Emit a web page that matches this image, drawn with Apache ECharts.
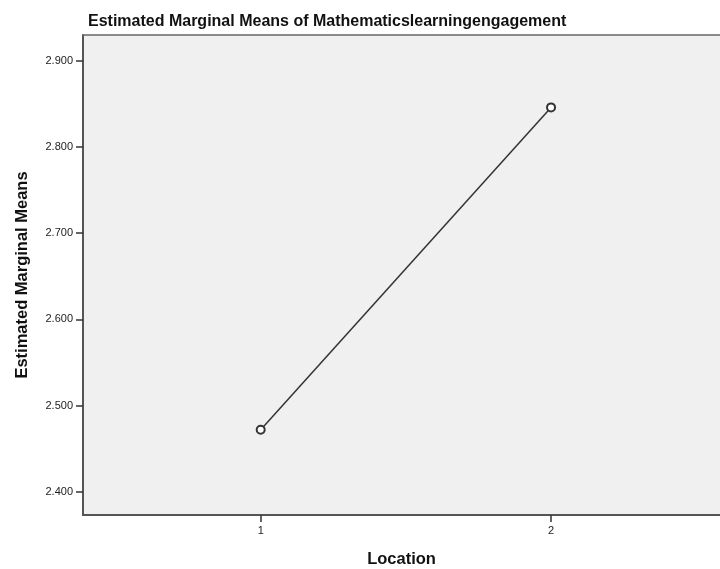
<!DOCTYPE html>
<html>
<head>
<meta charset="utf-8">
<script src="https://cdn.jsdelivr.net/npm/echarts@6/dist/echarts.min.js"></script>
<style>
  html, body { margin: 0; padding: 0; background: #fff; }
  #main { width: 720px; height: 569px; }
</style>
</head>
<body>
<div id="main"></div>
<script>
// data
let locations = [1, 2];
let means = [2.472, 2.846];
let yTicks = [2.4, 2.5, 2.6, 2.7, 2.8, 2.9];
let xTicks = [1, 2];

let chart = echarts.init(document.getElementById('main'));

let font = 'Liberation Sans, Arial, sans-serif';

let option = {
    animation: false,
    title: {
        text: 'Estimated Marginal Means of Mathematicslearningengagement',
        left: 83,
        top: 9,
        textStyle: { fontFamily: font, fontSize: 16, fontWeight: 'bold', color: '#111' }
    },
    grid: {
        left: 83, top: 35, right: 0, bottom: 54,
        outerBoundsMode: 'none',
        containLabel: false,
        show: true,
        backgroundColor: '#f0f0f0',
        borderWidth: 0
    },
    xAxis: [{
        type: 'value',
        min: 0.388,
        max: 2.582,
        name: 'Location',
        nameLocation: 'middle',
        nameGap: 36,
        nameTextStyle: { fontFamily: font, fontSize: 16.5, fontWeight: 'bold', color: '#111' },
        splitLine: { show: false },
        axisLine: { show: true, lineStyle: { color: '#555', width: 2 } },
        axisTick: { show: true, length: 7, customValues: xTicks, lineStyle: { color: '#333', width: 1.5 } },
        axisLabel: {
            customValues: xTicks,
            fontFamily: font, fontSize: 11, color: '#222', margin: 10,
            formatter: function (v) { return String(v); }
        }
    }, {
        // top frame line of the plot box
        type: 'value',
        position: 'top',
        min: 0.388,
        max: 2.582,
        splitLine: { show: false },
        axisLine: { show: true, onZero: false, lineStyle: { color: '#666', width: 1.5 } },
        axisTick: { show: false },
        axisLabel: { show: false }
    }],
    yAxis: {
        type: 'value',
        min: 2.373,
        max: 2.930,
        name: 'Estimated Marginal Means',
        nameLocation: 'middle',
        nameGap: 52,
        nameTextStyle: { fontFamily: font, fontSize: 16.5, fontWeight: 'bold', color: '#111' },
        splitLine: { show: false },
        axisLine: { show: true, lineStyle: { color: '#555', width: 2 } },
        axisTick: { show: true, length: 7, customValues: yTicks, lineStyle: { color: '#333', width: 1.5 } },
        axisLabel: {
            customValues: yTicks,
            fontFamily: font, fontSize: 11, color: '#222', margin: 10,
            formatter: function (v) { return v.toFixed(3); }
        }
    },
    series: [{
        type: 'line',
        data: locations.map(function (x, i) { return [x, means[i]]; }),
        symbol: 'emptyCircle',
        symbolSize: 8,
        lineStyle: { color: '#333', width: 1.5 },
        itemStyle: { color: '#333', borderColor: '#333', borderWidth: 1.5 }
    }]
};

chart.setOption(option);
</script>
</body>
</html>
